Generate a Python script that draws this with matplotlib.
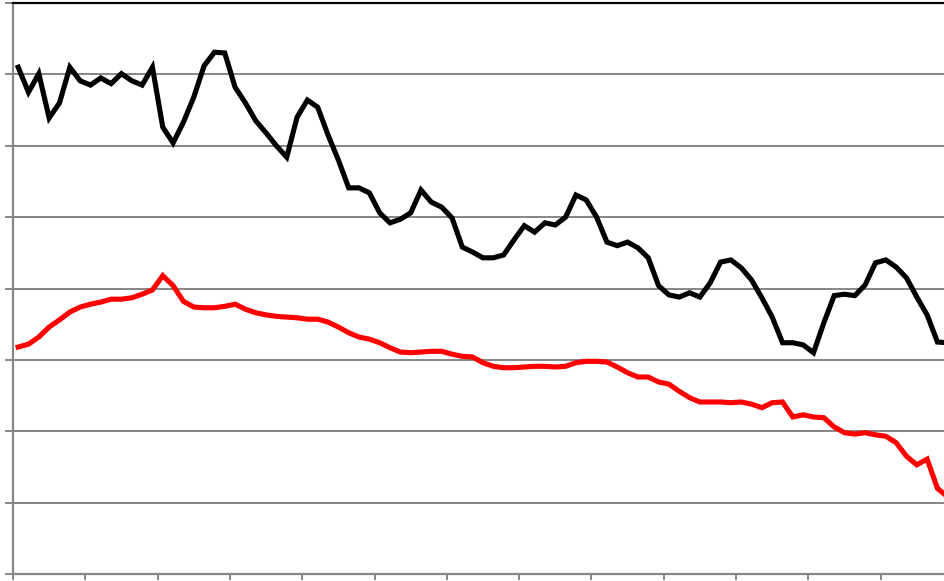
import numpy as np
import matplotlib
matplotlib.use('Agg')
import matplotlib.pyplot as plt

# Two series (arbitrary units, gridlines every 1.0)
black_series = [
    7.10, 6.75, 7.01, 6.39, 6.60, 7.10, 6.91, 6.85, 6.95, 6.87,
    7.01, 6.91, 6.85, 7.10, 6.26, 6.04, 6.33, 6.68, 7.12, 7.31,
    7.30, 6.82, 6.60, 6.35, 6.18, 6.00, 5.84, 6.40, 6.64, 6.54,
    6.15, 5.80, 5.41, 5.41, 5.34, 5.06, 4.92, 4.97, 5.06, 5.38,
    5.21, 5.14, 4.99, 4.58, 4.51, 4.43, 4.43, 4.47, 4.68, 4.88,
    4.79, 4.92, 4.89, 5.00, 5.31, 5.24, 5.00, 4.65, 4.60, 4.65,
    4.57, 4.43, 4.04, 3.91, 3.88, 3.94, 3.88, 4.08, 4.37, 4.40,
    4.29, 4.12, 3.87, 3.60, 3.24, 3.24, 3.21, 3.10, 3.52, 3.90,
    3.92, 3.90, 4.05, 4.36, 4.40, 4.30, 4.15, 3.88, 3.63, 3.25,
    3.24,
]
red_series = [
    3.18, 3.22, 3.32, 3.46, 3.56, 3.67, 3.74, 3.78, 3.81, 3.85,
    3.85, 3.87, 3.92, 3.98, 4.18, 4.04, 3.82, 3.74, 3.73, 3.73,
    3.75, 3.78, 3.71, 3.66, 3.63, 3.61, 3.60, 3.59, 3.57, 3.57,
    3.53, 3.46, 3.38, 3.32, 3.29, 3.24, 3.17, 3.11, 3.10, 3.11,
    3.12, 3.12, 3.08, 3.05, 3.04, 2.96, 2.91, 2.89, 2.89, 2.90,
    2.91, 2.91, 2.90, 2.91, 2.96, 2.98, 2.98, 2.97, 2.90, 2.82,
    2.76, 2.76, 2.69, 2.66, 2.56, 2.47, 2.41, 2.41, 2.41, 2.40,
    2.41, 2.38, 2.33, 2.40, 2.41, 2.20, 2.23, 2.20, 2.19, 2.06,
    1.98, 1.96, 1.98, 1.95, 1.93, 1.84, 1.65, 1.53, 1.61, 1.20,
    1.08,
]
y_gridlines = [0, 1, 2, 3, 4, 5, 6, 7, 8]
tick_every = 7

x = np.arange(len(black_series))

W, H = 945, 581
fig = plt.figure(figsize=(W / 100, H / 100), dpi=100)
ax = fig.add_axes([13 / W, 7 / H, 1 - 13 / W, 571 / H])

grid_col = '#868686'
ax.plot(x, black_series, color='black', lw=3.7, solid_joinstyle='miter', zorder=3)
ax.plot(x, red_series, color='#ff0000', lw=3.7, solid_joinstyle='miter', zorder=3)

ax.set_yticks(y_gridlines)
ax.set_xticks(np.arange(-0.5, len(x), tick_every))
ax.set_xticklabels([])
ax.set_yticklabels([])
ax.set_ylim(0, 8)
ax.set_xlim(-0.5, 89.73)
ax.yaxis.grid(True, color=grid_col, lw=1.4)
ax.set_axisbelow(True)
ax.tick_params(axis='y', direction='out', length=6, width=1.4, color=grid_col)
ax.tick_params(axis='x', direction='out', length=4.5, width=1.4, color=grid_col)

for side in ['left', 'bottom']:
    ax.spines[side].set_color(grid_col)
    ax.spines[side].set_linewidth(1.6)
ax.spines['right'].set_visible(False)
ax.spines['top'].set_color('black')
ax.spines['top'].set_linewidth(1.6)

fig.savefig('out.png', dpi=100)
